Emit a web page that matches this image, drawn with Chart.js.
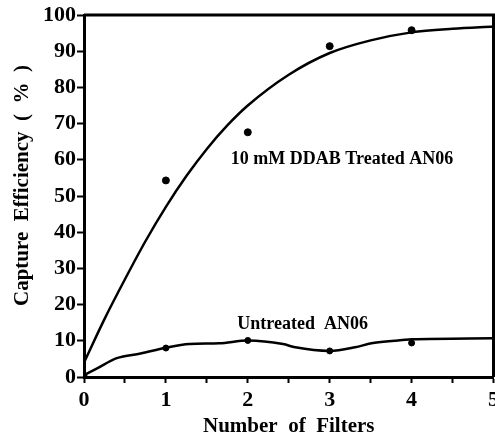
<!DOCTYPE html>
<html>
<head>
<meta charset="utf-8">
<script src="https://cdn.jsdelivr.net/npm/chart.js@4.4.1/dist/chart.umd.min.js"></script>
<style>
  html, body { margin: 0; padding: 0; background: #fff; overflow: hidden; }
  #wrap { width: 503px; height: 439px; }
</style>
</head>
<body>
<div id="wrap"><canvas id="grafico"></canvas></div>
<script>
// Curva trattati (DDAB)
const fitX = [0, 0.25, 0.5, 0.75, 1, 1.25, 1.5, 1.75, 2, 2.5, 3, 3.5, 4, 4.5, 5];
const fitTrattati = [4, 16, 27, 37.5, 47, 55.5, 63, 69.5, 75, 83.5, 89.5, 93, 95.2, 96.2, 96.8];

// Punti misurati trattati
const puntiX = [1, 2, 3, 4];
const puntiTrattati = [54.3, 67.6, 91.4, 95.8];

// Curva non trattati
const fitX2 = [0, 0.16, 0.4, 0.69, 1, 1.29, 1.65, 2, 2.43, 2.58, 3, 3.31, 3.51, 3.79, 4, 5];
const fitNonTrattati = [0.5, 2.4, 5.2, 6.5, 8.1, 9.1, 9.3, 10.1, 9.1, 8.2, 7.2, 8.2, 9.3, 10.0, 10.4, 10.7];

// Punti misurati non trattati
const puntiX2 = [0, 1, 2, 3, 4];
const puntiNonTrattati = [0.3, 8, 10.1, 7.2, 9.4];

// Etichette
const etichette = [
  { testo: "10 mM DDAB Treated AN06", x: 3.15, y: 60 },
  { testo: "Untreated  AN06", x: 2.67, y: 14.5 },
];

const FONT = "'Liberation Serif', 'Times New Roman', serif";

const xy = (xs, ys) => xs.map((x, i) => ({ x: x, y: ys[i] }));

// Cornice sopra e a destra + etichette
const cornice = {
  id: "cornice",
  afterDraw(chart) {
    const { ctx, chartArea } = chart;
    ctx.save();
    ctx.strokeStyle = "#000";
    ctx.lineWidth = 3;
    ctx.beginPath();
    ctx.moveTo(chartArea.left, chartArea.top);
    ctx.lineTo(chartArea.right, chartArea.top);
    ctx.lineTo(chartArea.right, chartArea.bottom);
    ctx.stroke();

    ctx.fillStyle = "#000";
    ctx.font = "bold 18px " + FONT;
    ctx.textAlign = "center";
    ctx.textBaseline = "middle";
    etichette.forEach((e) => {
      ctx.fillText(e.testo, chart.scales.x.getPixelForValue(e.x), chart.scales.y.getPixelForValue(e.y));
    });
    ctx.restore();
  },
};

new Chart(document.getElementById("grafico"), {
  type: "scatter",
  data: {
    datasets: [
      {
        type: "line",
        data: xy(fitX, fitTrattati),
        borderColor: "#000",
        borderWidth: 2.5,
        pointRadius: 0,
        cubicInterpolationMode: "monotone",
      },
      {
        data: xy(puntiX, puntiTrattati),
        backgroundColor: "#000",
        borderColor: "#000",
        pointRadius: 3.5,
      },
      {
        type: "line",
        data: xy(fitX2, fitNonTrattati),
        borderColor: "#000",
        borderWidth: 2.5,
        pointRadius: 0,
        cubicInterpolationMode: "monotone",
      },
      {
        data: xy(puntiX2, puntiNonTrattati),
        backgroundColor: "#000",
        borderColor: "#000",
        pointRadius: 3,
      },
    ],
  },
  options: {
    responsive: true,
    maintainAspectRatio: false,
    animation: false,
    layout: { padding: { top: 15, right: 0, left: 0, bottom: 0 } },
    plugins: { legend: { display: false }, tooltip: { enabled: false } },
    scales: {
      x: {
        type: "linear",
        min: 0,
        max: 5,
        afterFit: (s) => { s.height = 62; },
        border: { color: "#000", width: 3 },
        grid: { drawOnChartArea: false, color: "#000", tickLength: 6, tickWidth: 2 },
        ticks: {
          stepSize: 0.5,
          color: "#000",
          padding: 4,
          maxRotation: 0,
          font: { family: FONT, size: 22, weight: "bold" },
          callback: (v) => (Number.isInteger(v) ? v : ""),
        },
        title: {
          display: true,
          text: "Number  of  Filters",
          color: "#000",
          padding: { top: 0, bottom: 0 },
          font: { family: FONT, size: 21, weight: "bold" },
        },
      },
      y: {
        min: 0,
        max: 100,
        afterFit: (s) => { s.width = 84; },
        border: { color: "#000", width: 3 },
        grid: { drawOnChartArea: false, color: "#000", tickLength: 7, tickWidth: 2 },
        ticks: {
          stepSize: 5,
          color: "#000",
          padding: 1,
          font: { family: FONT, size: 22, weight: "bold" },
          callback: (v) => (v % 10 === 0 ? v : ""),
        },
        title: {
          display: true,
          text: "    Capture  Efficiency  (  %  )",
          color: "#000",
          padding: { top: 10, bottom: 0 },
          font: { family: FONT, size: 21, weight: "bold" },
        },
      },
    },
  },
  plugins: [cornice],
});
</script>
</body>
</html>
